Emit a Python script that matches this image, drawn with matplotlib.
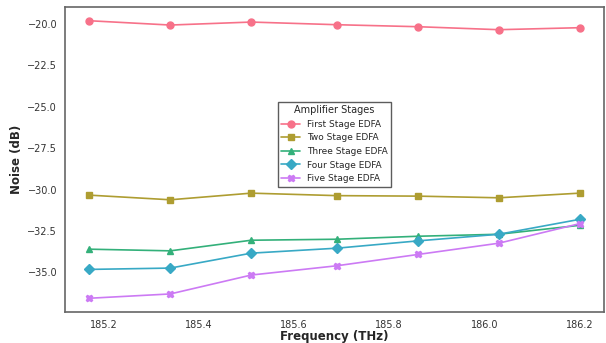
import matplotlib
matplotlib.use("Agg")
import matplotlib.pyplot as plt
import seaborn as sns

freqs = [185.17, 185.34, 185.51, 185.69, 185.86, 186.03, 186.20]
first_stage = [-19.82, -20.08, -19.90, -20.06, -20.18, -20.36, -20.24]
two_stage = [-30.34, -30.62, -30.22, -30.37, -30.40, -30.50, -30.22]
three_stage = [-33.60, -33.70, -33.06, -33.00, -32.82, -32.70, -32.16]
four_stage = [-34.82, -34.74, -33.84, -33.54, -33.10, -32.70, -31.80]
five_stage = [-36.56, -36.30, -35.16, -34.60, -33.92, -33.24, -32.06]

labels = ["First Stage EDFA", "Two Stage EDFA", "Three Stage EDFA",
          "Four Stage EDFA", "Five Stage EDFA"]
series = [first_stage, two_stage, three_stage, four_stage, five_stage]
markers = ["o", "s", "^", "D", "X"]

sns.set_style("white")
colors = sns.color_palette("husl", 5)

fig = plt.figure(figsize=(6.06, 3.43), dpi=100)
ax = fig.add_axes([0.107, 0.09, 0.89, 0.89])

for vals, lab, m, c in zip(series, labels, markers, colors):
    ax.plot(freqs, vals, marker=m, color=c, label=lab, markersize=5, linewidth=1.2)

ax.set_xlabel("Frequency (THz)", fontsize=8.5, fontweight="bold", labelpad=0)
ax.set_ylabel("Noise (dB)", fontsize=8.5, fontweight="bold", labelpad=3)
ax.tick_params(labelsize=7, colors="#333333", pad=2)
for s in ax.spines.values():
    s.set_color("#666666")
    s.set_linewidth(1.2)

leg = ax.legend(title="Amplifier Stages", loc="center", bbox_to_anchor=(0.5, 0.55),
                fontsize=6.5, title_fontsize=7, frameon=True, edgecolor="#333333",
                fancybox=False)

fig.savefig("out.png", dpi=100)
